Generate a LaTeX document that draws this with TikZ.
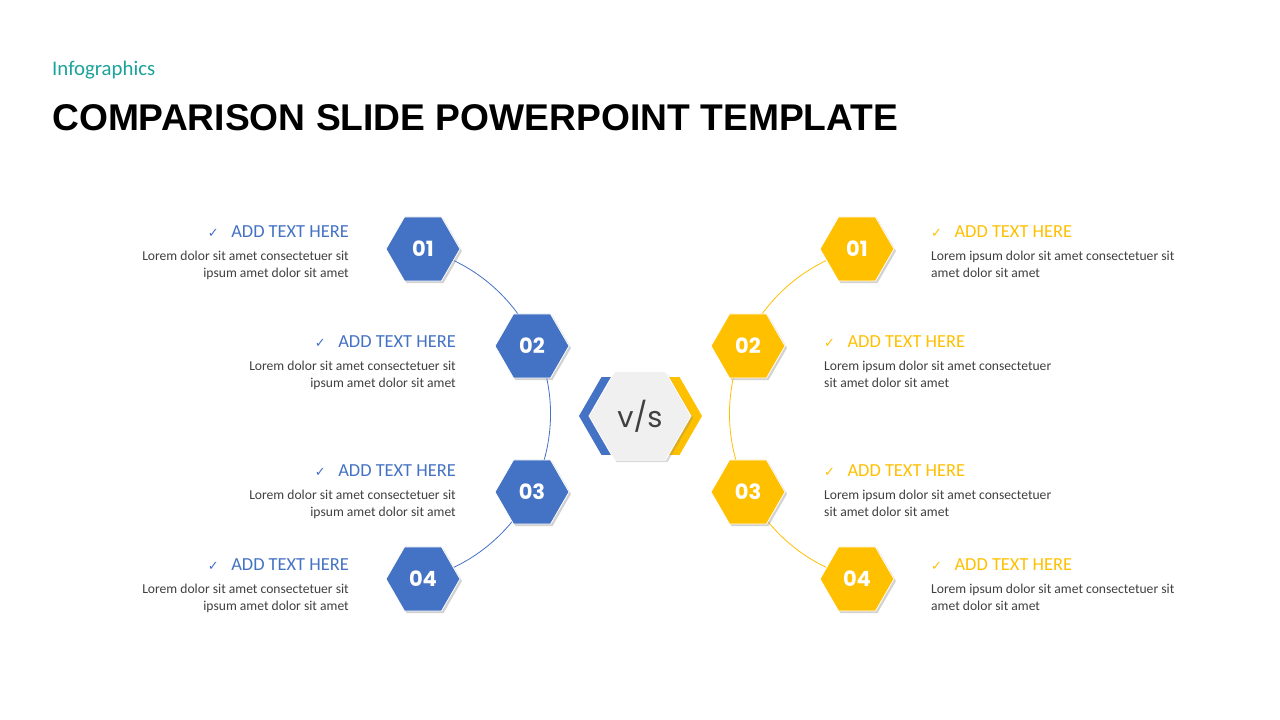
\documentclass[tikz,border=0pt]{standalone}
\usepackage{fontspec}
\setmainfont{Carlito}
\newfontfamily\pop{Poppins}
\newfontfamily\tit{Liberation Sans}
\newfontfamily\djsym{DejaVu Sans}
\usetikzlibrary{shapes.geometric,shadows}
\definecolor{cblue}{HTML}{4472C4}
\definecolor{cyel}{HTML}{FFC000}
\definecolor{cteal}{HTML}{1AA39A}
\definecolor{ctxt}{HTML}{404040}
\newcommand{\chk}{{\djsym\fontsize{13}{13}\selectfont ✓}\ \ \ }
\begin{document}
\begin{tikzpicture}[x=1pt,y=1pt,
 hexa/.style={regular polygon,regular polygon sides=6,minimum size=74pt,inner sep=0pt,draw=white,line width=0.8pt,
   drop shadow={opacity=0.35,shadow xshift=2pt,shadow yshift=-2pt},text=white,font=\pop\bfseries\fontsize{21}{21}\selectfont},
 bh/.style={hexa,fill=cblue},
 yh/.style={hexa,fill=cyel},
 headL/.style={anchor=base east,font=\fontsize{18.4}{18}\selectfont,text=cblue,inner sep=0},
 headR/.style={anchor=base west,font=\fontsize{18.4}{18}\selectfont,text=cyel,inner sep=0},
 bodyL/.style={anchor=base east,font=\fontsize{13.6}{13}\selectfont,text=ctxt,inner sep=0},
 bodyR/.style={anchor=base west,font=\fontsize{13.6}{13}\selectfont,text=ctxt,inner sep=0}]
\useasboundingbox[fill=white] (0,0) rectangle (1280,720);
\node[anchor=base west,inner sep=0,text=cteal,font=\fontsize{20.8}{20}\selectfont] (inf) at (52,644) {Infographics};
\node[anchor=base west,inner sep=0,font=\tit\bfseries\fontsize{37.2}{37}\selectfont] (title) at (52,589) {COMPARISON SLIDE POWERPOINT TEMPLATE};
% arcs
\draw[cblue,line width=0.8pt] (380.5,306) ++(75.5:170) arc[start angle=75.5,end angle=-75.5,radius=170];
\draw[cyel,line width=0.8pt] (899.5,306) ++(104.5:170) arc[start angle=104.5,end angle=255.5,radius=170];
% hexes
\node[bh] (l1) at (423,471) {01};
\node[bh] (l2) at (532,374) {02};
\node[bh] (l3) at (532,228) {03};
\node[bh] (l4) at (423,141) {04};
\node[yh] (r1) at (857,471) {01};
\node[yh] (r2) at (748,374) {02};
\node[yh] (r3) at (748,228) {03};
\node[yh] (r4) at (857,141) {04};
% center
\node[regular polygon,regular polygon sides=6,minimum size=90pt,fill=cblue,inner sep=0] (vb) at (624,304) {};
\node[regular polygon,regular polygon sides=6,minimum size=90pt,fill=cyel,inner sep=0] (vy) at (657,304) {};
\node[regular polygon,regular polygon sides=6,minimum size=102pt,fill=black!6,inner sep=0,draw=white,line width=0.8pt,
  drop shadow={opacity=0.3,shadow xshift=2pt,shadow yshift=-2pt},text=ctxt,font=\pop\fontsize{29}{29}\selectfont] (vs) at (640,304) {v/s};
% left texts
\node[headL] (lh1) at (349,482) {\chk ADD TEXT HERE};
\node[bodyL] (lb1a) at (349,459) {Lorem dolor sit amet consectetuer sit};
\node[bodyL] (lb1b) at (349,442) {ipsum amet dolor sit amet};
\node[headL] (lh2) at (456,372) {\chk ADD TEXT HERE};
\node[bodyL] (lb2a) at (456,349) {Lorem dolor sit amet consectetuer sit};
\node[bodyL] (lb2b) at (456,332) {ipsum amet dolor sit amet};
\node[headL] (lh3) at (456,243) {\chk ADD TEXT HERE};
\node[bodyL] (lb3a) at (456,220) {Lorem dolor sit amet consectetuer sit};
\node[bodyL] (lb3b) at (456,203) {ipsum amet dolor sit amet};
\node[headL] (lh4) at (349,149) {\chk ADD TEXT HERE};
\node[bodyL] (lb4a) at (349,126) {Lorem dolor sit amet consectetuer sit};
\node[bodyL] (lb4b) at (349,109) {ipsum amet dolor sit amet};
% right texts
\node[headR] (rh1) at (931,482) {\chk ADD TEXT HERE};
\node[bodyR] (rb1a) at (931,459) {Lorem ipsum dolor sit amet consectetuer sit};
\node[bodyR] (rb1b) at (931,442) {amet dolor sit amet};
\node[headR] (rh2) at (824,372) {\chk ADD TEXT HERE};
\node[bodyR] (rb2a) at (824,349) {Lorem ipsum dolor sit amet consectetuer};
\node[bodyR] (rb2b) at (824,332) {sit amet dolor sit amet};
\node[headR] (rh3) at (824,243) {\chk ADD TEXT HERE};
\node[bodyR] (rb3a) at (824,220) {Lorem ipsum dolor sit amet consectetuer};
\node[bodyR] (rb3b) at (824,203) {sit amet dolor sit amet};
\node[headR] (rh4) at (931,149) {\chk ADD TEXT HERE};
\node[bodyR] (rb4a) at (931,126) {Lorem ipsum dolor sit amet consectetuer sit};
\node[bodyR] (rb4b) at (931,109) {amet dolor sit amet};
\end{tikzpicture}
\end{document}
